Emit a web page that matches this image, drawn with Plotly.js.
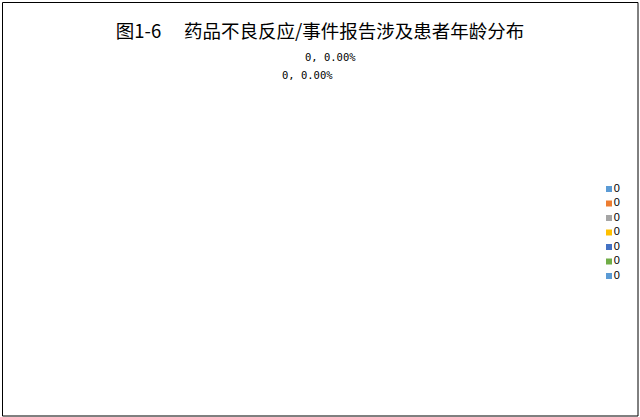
<!DOCTYPE html>
<html>
<head>
<meta charset="utf-8">
<script src="https://cdn.plot.ly/plotly-3.0.1.min.js"></script>
<style>
  html, body { margin: 0; padding: 0; background: #fff; }
  #chart { width: 640px; height: 417px; }
</style>
</head>
<body>
<div id="chart"></div>
<script>
// age groups (all labelled "0" in the source) and their counts
const categories = ['0', '0', '0', '0', '0', '0', '0'];
const values = [0, 0, 0, 0, 0, 0, 0];
const colors = ['#5B9BD5', '#ED7D31', '#A5A5A5', '#FFC000', '#4472C4', '#70AD47', '#5B9BD5'];
const titleText = '图1-6\u3000 药品不良反应/事件报告涉及患者年龄分布';

const W = 640, H = 417;
const total = values.reduce((a, b) => a + b, 0);
const pct = v => (total ? v / total * 100 : 0).toFixed(2) + '%';

// legend drawn as a little scatter on its own hidden axes
const legendTrace = {
  type: 'scatter',
  mode: 'markers+text',
  x: categories.map(() => 0),
  y: categories.map((c, i) => i),
  text: categories,
  textposition: 'middle right',
  textfont: {family: 'Liberation Sans, Arial', size: 11, color: '#000'},
  marker: {symbol: 'square', size: 6, color: colors},
  cliponaxis: false,
  hoverinfo: 'skip',
  showlegend: false,
  xaxis: 'x2',
  yaxis: 'y2'
};

// the two visible data labels of the (empty) pie
const labelPos = [[330, 57], [307, 75]];
const annotations = labelPos.map((p, i) => ({
  xref: 'paper', yref: 'paper',
  x: p[0] / W, y: 1 - p[1] / H,
  xanchor: 'center', yanchor: 'middle',
  showarrow: false,
  text: values[i] + ', ' + pct(values[i]),
  font: {family: 'DejaVu Sans Mono, monospace', size: 10.5, color: '#000'}
}));

const layout = {
  width: W, height: H,
  margin: {l: 0, r: 0, t: 0, b: 0},
  paper_bgcolor: '#fff',
  plot_bgcolor: 'rgba(0,0,0,0)',
  showlegend: false,
  title: {
    text: titleText,
    x: 0.5, xanchor: 'center',
    y: 1 - 32 / H, yanchor: 'middle',
    font: {family: 'Noto Sans CJK SC', size: 18.5, color: '#000'}
  },
  xaxis: {visible: false},
  yaxis: {visible: false},
  xaxis2: {visible: false, domain: [609 / W, 630 / W], range: [0, 1], anchor: 'y2'},
  yaxis2: {visible: false, domain: [1 - 276 / H, 1 - 189 / H], range: [6, 0], anchor: 'x2'},
  annotations: annotations,
  shapes: [{
    type: 'rect', xref: 'paper', yref: 'paper',
    x0: 2.5 / W, x1: 638 / W, y0: 1 - 416 / H, y1: 1 - 2.5 / H,
    line: {color: '#000', width: 1}
  }]
};

Plotly.newPlot('chart', [legendTrace], layout, {staticPlot: true, displayModeBar: false});
</script>
</body>
</html>
